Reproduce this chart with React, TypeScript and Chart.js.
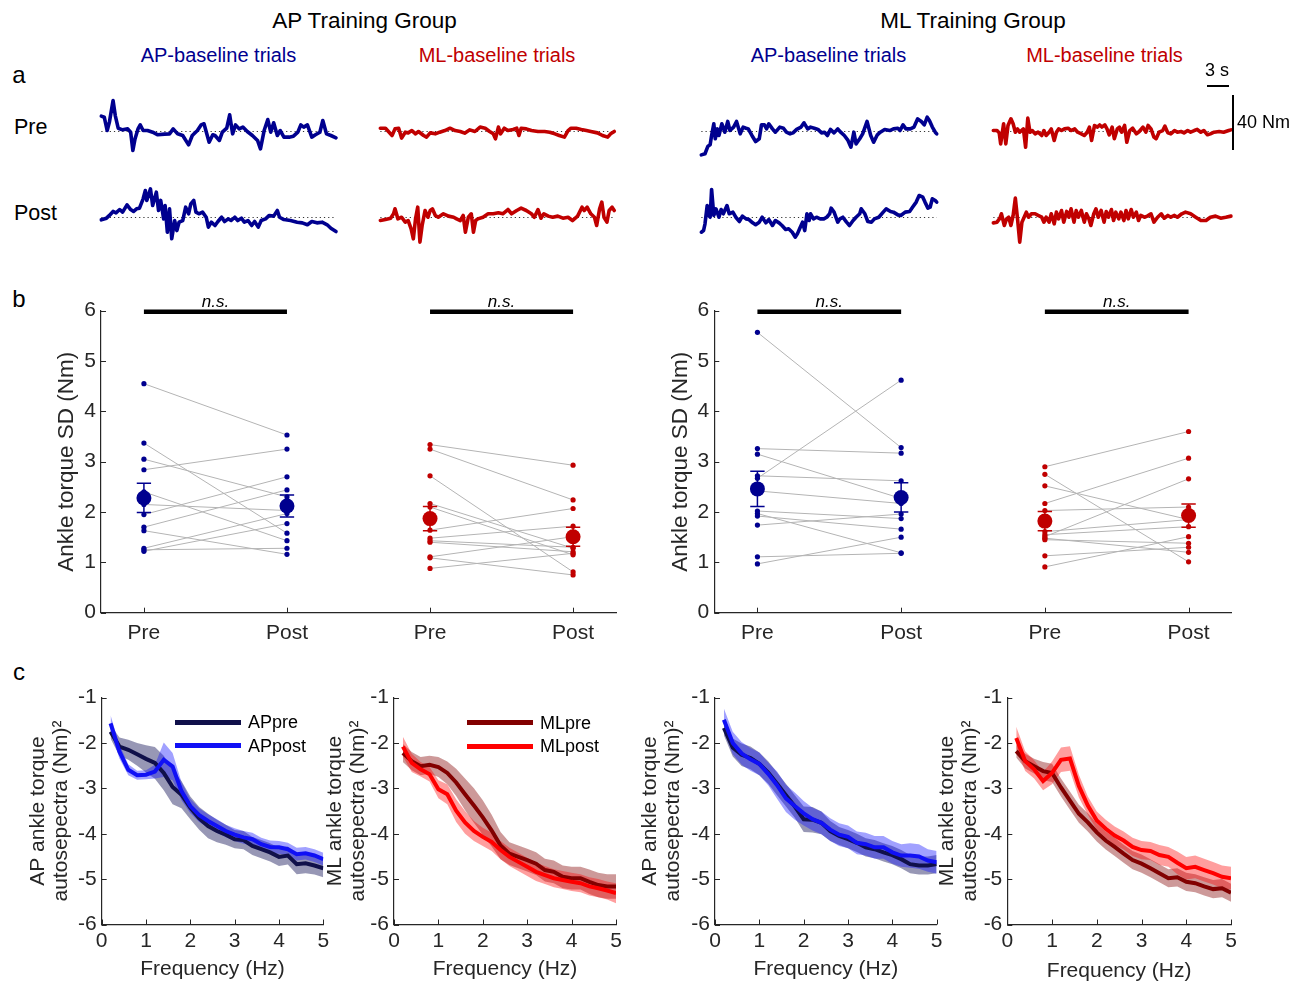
import React, { useEffect, useRef } from 'react';
import { Chart, registerables } from 'chart.js';

Chart.register(...registerables);

const FONT = "'Liberation Sans', Arial, Helvetica, sans-serif";
Chart.defaults.font.family = FONT;
Chart.defaults.color = '#262626';

// ================= DATA: row a, torque traces (time s, torque Nm) =================
// AP training group
const APG_AP_PRE_T = [0, 0.4, 0.8, 1.1, 1.6, 1.9, 2.3, 2.9, 3.6, 4.0, 4.3, 4.6, 5.0, 5.3, 5.7, 6.3, 7.0, 7.7, 8.6, 9.3, 9.8, 10.4, 11.1, 11.9, 12.4, 13.1, 13.6, 14.0, 14.7, 15.2, 15.5, 16.1, 16.5, 17.1, 17.5, 17.9, 18.3, 18.8, 19.3, 19.9, 20.6, 21.3, 21.7, 22.2, 22.7, 23.1, 23.5, 24.0, 24.4, 24.9, 25.6, 26.2, 26.8, 27.2, 27.6, 28.1, 28.7, 29.2, 29.8, 30.2, 30.7, 31.3, 32.0];
const APG_AP_PRE_NM = [11.2, 10.4, 0.7, 6.8, 22.5, 11.6, 2.4, 1.2, 1.9, -0.5, -13.8, -5.3, 1.9, 4.8, 0.7, 0.7, -0.5, -2.4, -1.9, -1.7, 1.9, -1.7, -2.9, -9.7, -2.9, 0.7, 4.8, 5.6, -7.8, -2.4, -2.9, -6.5, -0.5, 2.4, 12.1, -1.7, 4.8, 1.9, 3.2, 0, -2.9, -6.5, -12.6, 0.7, 8.7, -0.5, 6.3, -2.9, 0.7, -4.1, -4.1, -3.4, -0.5, 4.8, 3.2, 4.8, -4.1, -2.4, -0.5, 8.0, -1.7, -2.9, -4.6];
const APG_AP_POST_T = [0, 0.7, 1.1, 1.6, 2.0, 2.5, 2.9, 3.5, 4.0, 4.4, 4.8, 5.2, 5.7, 6.0, 6.2, 6.7, 7.0, 7.5, 7.8, 8.1, 8.5, 8.7, 9.0, 9.3, 9.6, 10.0, 10.3, 10.6, 11.1, 11.5, 11.9, 12.2, 12.6, 12.9, 13.3, 13.8, 14.3, 14.6, 15.0, 15.5, 15.9, 16.4, 16.8, 17.3, 17.7, 18.2, 18.6, 19.1, 19.5, 20.0, 20.5, 20.9, 21.4, 21.8, 22.4, 22.9, 23.5, 24.0, 24.3, 24.9, 25.8, 26.7, 27.4, 28.1, 28.7, 29.4, 30.1, 30.8, 31.3, 32.0];
const APG_AP_POST_NM = [-1.7, -0.5, 1.5, 4.4, 3.4, 5.8, 3.9, 9.2, 5.8, 4.4, 6.3, 6.8, 13.6, 19.6, 12.4, 20.8, 8.7, 18.4, 5.1, 12.4, -1.0, 8.7, -10.7, 6.3, -15.5, -2.2, -9.5, -3.4, -2.2, 7.5, 2.7, 9.9, 12.4, 3.9, 2.7, 3.9, 0.2, -7.0, -3.4, -5.8, -2.9, 0.2, -2.9, -1.0, -2.2, 0.2, -2.2, -0.5, -3.4, -2.2, -5.8, -2.9, -7.0, -2.2, -1.0, 1.5, 1.0, 5.1, 0.2, -1.5, -2.2, -3.4, -3.9, -5.3, -2.9, -3.9, -3.4, -5.3, -7.8, -10.2];
const APG_ML_PRE_T = [0, 0.7, 1.2, 1.6, 2.0, 2.5, 2.9, 3.4, 3.8, 4.3, 4.8, 5.2, 5.9, 6.3, 6.8, 7.5, 8.1, 8.8, 9.5, 10.2, 10.9, 11.5, 12.2, 12.9, 13.6, 14.3, 14.9, 15.4, 15.7, 16.1, 16.4, 16.9, 17.4, 18.1, 18.6, 18.9, 19.2, 19.9, 20.6, 21.5, 22.4, 23.1, 23.8, 24.4, 25.1, 25.6, 26.0, 26.7, 27.4, 28.1, 28.7, 29.6, 30.3, 31.0, 31.4, 31.9];
const APG_ML_PRE_NM = [2.4, 2.4, -0.5, -2.9, 1.9, 2.4, -4.8, -0.5, -1.0, 0.7, -1.7, 0, -2.9, -4.1, -1.0, -1.7, -0.5, 0.7, 2.4, 0.7, 0, -1.2, 1.2, 0, 3.2, 2.4, 0, -1.7, -5.3, 3.2, -1.7, 2.4, 0.7, 1.5, 2.4, -2.9, 2.4, 1.9, 0.7, 0, 0, -0.5, -1.7, -2.9, -4.1, 0.7, 2.4, 2.4, 1.5, 0.7, 0, -1.0, -2.9, -4.1, -1.7, 0];
const APG_ML_POST_T = [0, 0.7, 1.4, 1.8, 2.0, 2.4, 2.9, 3.4, 3.8, 4.2, 4.5, 4.8, 5.1, 5.4, 5.7, 6.1, 6.5, 6.8, 7.1, 7.5, 7.9, 8.6, 9.3, 10.0, 10.4, 10.9, 11.3, 11.6, 12.0, 12.4, 12.7, 13.0, 13.3, 14.0, 14.7, 15.4, 16.1, 16.7, 17.4, 17.9, 18.6, 19.2, 19.9, 20.6, 21.0, 21.5, 21.9, 22.3, 22.9, 23.5, 24.2, 24.9, 25.6, 26.2, 26.9, 27.5, 27.8, 28.2, 28.7, 29.2, 29.5, 29.9, 30.2, 30.5, 30.9, 31.2, 31.6, 31.9];
const APG_ML_POST_NM = [-2.2, -1.5, -0.5, 2.7, 6.3, -1.0, 0.2, -3.4, -2.2, -8.2, -15.5, -1.0, 7.5, -17.9, -5.8, 5.1, 0.2, 5.1, 6.3, 1.5, 0.2, 2.7, 1.0, 0.2, -1.0, -2.2, 1.5, -10.7, 0.2, 2.7, -10.7, -2.2, -1.0, 0.2, 2.7, 2.7, 3.4, 2.7, 5.8, 2.7, 5.1, 6.8, 5.1, 2.7, 0.2, 5.8, -0.5, 2.7, 1.0, 0.2, 1.0, -0.5, 0.2, -2.2, 1.0, 7.5, 5.1, 7.5, 2.7, 0.2, -5.8, 6.3, 11.2, 0.2, -3.4, 5.1, 7.5, 5.1];
// ML training group
const MLG_AP_PRE_T = [0, 0.5, 0.9, 1.2, 1.4, 1.7, 1.9, 2.2, 2.4, 2.8, 3.2, 3.6, 3.9, 4.4, 4.8, 5.3, 5.7, 6.1, 6.4, 6.9, 7.4, 7.9, 8.2, 8.6, 8.9, 9.2, 9.7, 10.1, 10.7, 11.2, 11.6, 12.1, 12.5, 13.0, 13.6, 14.0, 14.5, 14.9, 15.4, 15.9, 16.4, 16.8, 17.2, 17.6, 18.1, 18.6, 19.0, 19.5, 20.0, 20.4, 20.8, 21.1, 21.6, 22.0, 22.6, 23.1, 23.5, 24.0, 24.4, 25.0, 25.7, 26.2, 26.8, 27.1, 27.5, 27.9, 28.5, 29.0, 29.5, 30.0, 30.4, 30.8, 31.1, 31.5, 31.9, 32.1];
const MLG_AP_PRE_NM = [-17.0, -16.2, -10.7, -9.7, -2.9, 5.6, -5.3, 1.9, -2.9, 5.6, -0.5, 7.3, 0.7, 3.2, 7.3, -1.7, 3.2, 2.4, 1.9, -2.9, -7.3, -5.3, 4.8, 4.8, 1.9, 5.6, 1.9, -0.5, 3.2, 2.4, -0.5, -1.7, -1.0, 1.5, 3.2, 6.3, 1.9, 3.2, 2.4, 1.5, -1.0, -0.5, -2.9, 1.5, -1.0, 1.9, -0.5, -2.9, -6.5, -11.4, -0.5, -9.0, -5.3, -1.7, 7.3, -2.9, -7.8, -2.4, -0.5, 1.5, 0.7, 1.9, 2.4, 0.7, 4.8, 1.9, 1.9, 3.2, 9.2, 7.3, 4.8, 10.4, 8.0, 3.2, -0.5, -1.7];
const MLG_AP_POST_T = [0, 0.3, 0.5, 0.8, 1.0, 1.2, 1.4, 1.7, 2.0, 2.4, 2.7, 3.0, 3.5, 3.8, 4.3, 4.7, 5.2, 5.6, 6.1, 6.5, 7.0, 7.4, 7.9, 8.3, 8.8, 9.2, 9.7, 10.1, 10.6, 11.0, 11.5, 11.9, 12.4, 12.8, 13.1, 13.4, 13.8, 14.1, 14.4, 14.7, 14.9, 15.3, 15.7, 16.2, 16.7, 17.1, 17.5, 17.7, 18.1, 18.6, 18.9, 19.3, 19.8, 20.2, 20.7, 21.1, 21.6, 21.8, 22.3, 22.7, 23.2, 23.6, 24.2, 24.8, 25.2, 25.8, 26.2, 26.8, 27.2, 27.8, 28.4, 28.8, 29.3, 29.7, 30.2, 30.5, 30.9, 31.2, 31.5, 31.9, 32.1];
const MLG_AP_POST_NM = [-10.7, -9.5, -4.6, 8.7, 1.5, 0.2, 20.4, 1.5, 6.3, 0.2, 5.8, 2.7, 8.7, 2.7, 3.9, 0.2, -2.9, 1.0, -1.0, -1.5, -3.9, -5.3, -3.4, 0.2, -3.9, -1.5, -5.8, -2.2, -3.9, -5.8, -8.7, -8.2, -10.7, -14.3, -11.9, -8.2, -3.4, -9.5, 2.7, -2.2, 2.7, -1.0, 0.2, -1.0, -1.0, 0.2, 2.7, 6.8, 3.9, -3.4, -1.0, 0.2, -3.4, -5.8, -2.2, 0.2, 2.7, 6.3, 2.7, -2.9, -3.4, -1.0, 0.2, 3.9, 6.3, 4.4, 3.9, 1.9, 1.5, 3.9, 4.4, 7.5, 11.2, 16.0, 14.8, 11.2, 6.8, 7.5, 13.6, 12.4, 11.2];
const MLG_ML_PRE_T = [0, 0.5, 0.8, 1.0, 1.4, 1.7, 2.0, 2.4, 2.7, 3.0, 3.3, 3.6, 4.1, 4.4, 4.7, 5.0, 5.3, 5.7, 6.1, 6.6, 6.9, 7.2, 7.6, 7.9, 8.3, 8.6, 8.9, 9.3, 9.7, 10.2, 10.6, 11.1, 11.5, 12.0, 12.4, 12.8, 13.1, 13.4, 13.8, 14.2, 14.5, 14.8, 15.2, 15.5, 15.8, 16.2, 16.5, 16.9, 17.2, 17.5, 17.9, 18.2, 18.6, 19.0, 19.5, 19.9, 20.4, 20.8, 21.1, 21.5, 21.9, 22.2, 22.6, 23.1, 23.4, 23.8, 24.2, 24.7, 25.1, 25.6, 26.0, 26.5, 26.9, 27.4, 27.8, 28.3, 28.7, 29.2, 29.6, 30.1, 30.8, 31.4, 32.1, 32.4];
const MLG_ML_PRE_NM = [0.7, 0.7, -1.0, -9.0, 5.6, -9.0, 4.4, 9.2, 5.6, -0.5, 1.9, -0.5, 1.9, -11.4, 9.7, -0.5, 0.7, -1.7, -0.5, -2.9, 0.7, -2.9, -0.5, 1.9, -6.5, -0.5, 1.9, 0.7, 1.9, 2.4, 0.7, 1.9, -0.5, -1.7, -2.9, -0.5, 3.2, -6.5, 4.4, 3.2, 4.8, 3.2, 4.8, 1.9, -2.4, 3.2, -5.3, 1.9, 3.2, -0.5, 4.4, -7.8, 0.7, 2.4, -1.7, 0, 3.2, -0.5, 4.4, 1.9, -4.1, -5.3, -0.5, 0.7, 3.9, -1.0, -1.7, 0.7, -0.5, 0, -1.0, 0.7, -0.5, 0.7, 1.5, -0.5, 0.7, -2.4, -1.7, -0.5, 0, -0.5, 0.7, 1.2];
const MLG_ML_POST_T = [0, 0.5, 0.9, 1.1, 1.5, 1.8, 2.1, 2.4, 2.7, 3.0, 3.3, 3.6, 3.9, 4.2, 4.5, 4.8, 5.2, 5.7, 6.1, 6.6, 6.9, 7.2, 7.6, 7.9, 8.3, 8.6, 8.9, 9.3, 9.6, 10.0, 10.3, 10.6, 11.0, 11.3, 11.6, 12.0, 12.4, 12.7, 13.0, 13.3, 13.7, 14.0, 14.3, 14.7, 15.1, 15.4, 15.7, 16.1, 16.4, 16.7, 17.1, 17.4, 17.8, 18.1, 18.4, 18.8, 19.1, 19.5, 19.8, 20.1, 20.6, 21.0, 21.5, 21.9, 22.4, 22.9, 23.3, 23.8, 24.2, 24.7, 25.1, 25.7, 26.2, 26.9, 27.6, 28.3, 29.0, 29.6, 30.3, 31.0, 31.7, 32.4];
const MLG_ML_POST_NM = [-3.9, -3.4, -0.5, 2.7, -5.8, -1.0, 0.2, -5.8, 1.5, 14.1, -1.0, -17.9, -3.4, 0.2, 3.9, 0.2, 2.7, 2.7, 1.5, 0.2, -3.4, 0.2, -3.4, 2.7, -4.6, 3.9, -1.0, 5.1, -3.4, 4.4, 0.2, 6.3, -3.4, 5.1, 0.2, 5.1, -3.4, 2.7, -0.5, -5.8, 2.7, 6.3, 0.2, 5.1, -3.4, 4.4, 0.2, 5.8, -2.2, 3.9, -1.0, 3.9, -2.2, 5.1, -1.0, 5.8, 0.2, 3.9, -2.2, 1.5, 0.2, 1.0, 2.7, -3.4, 0.2, 2.7, -0.5, 1.5, 0.2, 1.5, 0.2, 2.7, 3.9, 2.7, 0.2, -2.2, -2.2, 0.2, 1.0, -0.5, 0.2, 1.0];

const SCALE_BAR_S = 3;
const SCALE_BAR_NM = 40;

// ================= DATA: row b, ankle torque SD (Nm) =================
const SD_TICK_POS = [1, 2, 3, 4];
const SD_TICK_LABELS = ['Pre', 'Post', 'Pre', 'Post'];
const SD_Y_TICKS = [0, 1, 2, 3, 4, 5, 6];
const SIG_LEVEL = 5.98;
const SIG_TEXT = 'n.s.';

const APG_AP_SD_PRE = [4.55, 3.37, 3.05, 2.84, 2.40, 2.15, 1.95, 1.70, 1.63, 1.28, 1.25, 1.22];
const APG_AP_SD_POST = [3.53, 1.58, 2.30, 3.25, 1.43, 2.03, 2.70, 2.44, 1.16, 1.97, 1.28, 1.77];
const APG_ML_SD_PRE = [3.34, 3.25, 2.72, 2.17, 2.10, 1.64, 1.48, 1.43, 1.40, 1.11, 1.09, 0.88];
const APG_ML_SD_POST = [2.93, 2.24, 0.81, 1.28, 1.15, 2.07, 1.72, 1.30, 1.21, 1.51, 0.75, 1.18];
const MLG_AP_SD_PRE = [5.57, 2.67, 3.26, 3.15, 2.72, 2.42, 2.02, 1.97, 1.92, 1.74, 1.11, 0.97];
const MLG_AP_SD_POST = [3.28, 4.62, 3.17, 2.27, 2.62, 2.17, 1.87, 1.19, 1.66, 1.96, 1.18, 1.50];
const MLG_ML_SD_PRE = [2.90, 2.75, 2.52, 2.17, 2.03, 1.61, 1.55, 1.51, 1.48, 1.45, 1.13, 0.91];
const MLG_ML_SD_POST = [3.60, 1.01, 1.85, 3.07, 2.10, 1.85, 1.71, 2.66, 1.20, 1.38, 1.30, 1.51];

// group mean [pre, post] and standard error [pre, post]
const APG_AP_SD_MEAN = [2.28, 2.12];
const APG_AP_SD_SE = [0.29, 0.22];
const APG_ML_SD_MEAN = [1.87, 1.51];
const APG_ML_SD_SE = [0.24, 0.19];
const MLG_AP_SD_MEAN = [2.46, 2.29];
const MLG_AP_SD_SE = [0.35, 0.29];
const MLG_ML_SD_MEAN = [1.82, 1.93];
const MLG_ML_SD_SE = [0.19, 0.23];

// ================= DATA: row c, log autospectra =================
const FREQ_HZ = [0.2, 0.4, 0.6, 0.8, 1.0, 1.2, 1.4, 1.6, 1.8, 2.0, 2.2, 2.4, 2.6, 2.8, 3.0, 3.2, 3.4, 3.6, 3.8, 4.0, 4.2, 4.4, 4.6, 4.8, 5.0];
const SPEC_X_TICKS = [0, 1, 2, 3, 4, 5];
const SPEC_Y_TICKS = [-6, -5, -4, -3, -2, -1];

const APG_SPEC_AP_PRE = [-1.75, -2.08, -2.15, -2.25, -2.35, -2.44, -2.66, -2.97, -3.14, -3.43, -3.66, -3.83, -3.94, -4.02, -4.12, -4.14, -4.27, -4.34, -4.41, -4.51, -4.48, -4.67, -4.65, -4.70, -4.76];
const APG_SPEC_AP_PRE_SE = [0.15, 0.2, 0.22, 0.25, 0.3, 0.35, 0.38, 0.38, 0.3, 0.25, 0.25, 0.27, 0.25, 0.22, 0.2, 0.2, 0.2, 0.2, 0.2, 0.2, 0.2, 0.22, 0.22, 0.2, 0.2];
const APG_SPEC_AP_POST = [-1.57, -2.19, -2.59, -2.71, -2.70, -2.63, -2.37, -2.52, -3.06, -3.39, -3.59, -3.72, -3.83, -3.94, -4.02, -4.08, -4.12, -4.23, -4.29, -4.30, -4.34, -4.45, -4.43, -4.48, -4.56];
const APG_SPEC_AP_POST_SE = [0.18, 0.15, 0.12, 0.1, 0.1, 0.15, 0.38, 0.3, 0.2, 0.16, 0.15, 0.15, 0.15, 0.14, 0.14, 0.14, 0.14, 0.14, 0.14, 0.14, 0.14, 0.14, 0.14, 0.14, 0.14];
const APG_SPEC_ML_PRE = [-2.22, -2.40, -2.51, -2.48, -2.53, -2.66, -2.87, -3.13, -3.38, -3.64, -3.93, -4.26, -4.44, -4.51, -4.58, -4.66, -4.80, -4.84, -4.95, -4.98, -4.98, -5.06, -5.13, -5.16, -5.16];
const APG_SPEC_ML_PRE_SE = [0.2, 0.2, 0.2, 0.2, 0.22, 0.25, 0.3, 0.35, 0.38, 0.38, 0.35, 0.3, 0.25, 0.25, 0.25, 0.25, 0.25, 0.25, 0.25, 0.25, 0.25, 0.27, 0.27, 0.27, 0.27];
const APG_SPEC_ML_POST = [-2.08, -2.44, -2.58, -2.69, -3.02, -3.13, -3.49, -3.75, -3.94, -4.07, -4.18, -4.36, -4.51, -4.62, -4.73, -4.84, -4.91, -4.98, -5.02, -5.06, -5.09, -5.16, -5.20, -5.25, -5.31];
const APG_SPEC_ML_POST_SE = [0.22, 0.2, 0.16, 0.16, 0.2, 0.22, 0.25, 0.25, 0.22, 0.2, 0.2, 0.2, 0.2, 0.2, 0.2, 0.2, 0.2, 0.2, 0.2, 0.2, 0.2, 0.2, 0.2, 0.2, 0.22];
const MLG_SPEC_AP_PRE = [-1.67, -2.10, -2.26, -2.33, -2.46, -2.65, -2.90, -3.15, -3.40, -3.68, -3.69, -3.76, -3.94, -4.05, -4.12, -4.20, -4.30, -4.34, -4.41, -4.47, -4.56, -4.67, -4.70, -4.70, -4.67];
const MLG_SPEC_AP_PRE_SE = [0.16, 0.2, 0.25, 0.25, 0.25, 0.25, 0.25, 0.25, 0.25, 0.28, 0.28, 0.25, 0.22, 0.2, 0.2, 0.2, 0.2, 0.2, 0.2, 0.2, 0.2, 0.2, 0.2, 0.2, 0.2];
const MLG_SPEC_AP_POST = [-1.49, -2.00, -2.23, -2.36, -2.46, -2.68, -2.93, -3.22, -3.39, -3.55, -3.68, -3.76, -3.91, -4.02, -4.07, -4.20, -4.23, -4.30, -4.30, -4.41, -4.48, -4.48, -4.50, -4.59, -4.63];
const MLG_SPEC_AP_POST_SE = [0.25, 0.25, 0.25, 0.25, 0.25, 0.25, 0.3, 0.3, 0.3, 0.27, 0.25, 0.25, 0.25, 0.25, 0.25, 0.25, 0.25, 0.25, 0.25, 0.25, 0.25, 0.27, 0.27, 0.25, 0.25];
const MLG_SPEC_ML_PRE = [-2.18, -2.40, -2.51, -2.62, -2.66, -2.98, -3.27, -3.56, -3.75, -3.97, -4.15, -4.29, -4.44, -4.58, -4.66, -4.76, -4.87, -4.98, -4.96, -5.06, -5.09, -5.16, -5.22, -5.20, -5.30];
const MLG_SPEC_ML_PRE_SE = [0.14, 0.16, 0.16, 0.2, 0.2, 0.2, 0.2, 0.2, 0.2, 0.2, 0.2, 0.2, 0.2, 0.2, 0.2, 0.2, 0.2, 0.2, 0.2, 0.2, 0.2, 0.2, 0.2, 0.2, 0.2];
const MLG_SPEC_ML_POST = [-1.89, -2.40, -2.58, -2.84, -2.66, -2.37, -2.34, -2.95, -3.38, -3.71, -3.89, -4.04, -4.15, -4.29, -4.36, -4.38, -4.47, -4.51, -4.64, -4.76, -4.73, -4.80, -4.87, -4.95, -4.98];
const MLG_SPEC_ML_POST_SE = [0.25, 0.22, 0.2, 0.2, 0.25, 0.27, 0.27, 0.25, 0.2, 0.2, 0.2, 0.2, 0.2, 0.2, 0.2, 0.2, 0.22, 0.22, 0.25, 0.25, 0.25, 0.25, 0.25, 0.25, 0.25];

// ================= STYLE / LAYOUT =================
const BLUE = '#00008F';
const RED = '#C00000';
const AXIS = '#262626';
const GRAY_LINE = '#B4B4B4';
const AP_PRE_LINE = '#10104A';
const AP_PRE_BAND = 'rgba(25,25,90,0.45)';
const AP_POST_LINE = '#1010F5';
const AP_POST_BAND = 'rgba(20,20,255,0.40)';
const ML_PRE_LINE = '#820000';
const ML_PRE_BAND = 'rgba(130,0,0,0.40)';
const ML_POST_LINE = '#FF0000';
const ML_POST_BAND = 'rgba(255,0,0,0.38)';
const TICK_FONT = { size: 21 };

const PX_PER_S = 22 / 3;
const PX_PER_NM = 55 / 40;
const TRACE_T_MIN = -1;
const TRACE_T_MAX = 33.5;
const TRACE_NM_HALF = 36;
const TICK_LEN = 5;

const inwardTicks = {
  id: 'inwardTicks',
  afterDatasetsDraw(chart: any) {
    const { ctx, chartArea } = chart;
    const xs = chart.scales.x;
    const ys = chart.scales.y;
    ctx.save();
    ctx.strokeStyle = AXIS;
    ctx.lineWidth = 1;
    ctx.beginPath();
    xs.ticks.forEach((t: any) => {
      const p = Math.round(xs.getPixelForValue(t.value)) + 0.5;
      ctx.moveTo(p, chartArea.bottom);
      ctx.lineTo(p, chartArea.bottom - TICK_LEN);
    });
    ys.ticks.forEach((t: any) => {
      const p = Math.round(ys.getPixelForValue(t.value)) + 0.5;
      ctx.moveTo(chartArea.left, p);
      ctx.lineTo(chartArea.left + TICK_LEN, p);
    });
    ctx.stroke();
    ctx.restore();
  },
};

type Area = { left: number; right: number; top: number; bottom: number };

function makeFrame(area: Area, ml: number, mt: number, mr: number, bottomAbs: number) {
  const left = Math.floor(area.left - ml);
  const top = Math.floor(area.top - mt);
  const right = Math.ceil(area.right + mr);
  const bottom = bottomAbs;
  return {
    left, top, width: right - left, height: bottom - top,
    yWidth: area.left - left, xHeight: bottom - area.bottom,
    padTop: area.top - top, padRight: right - area.right,
  };
}

function ChartBox({ left, top, width, height, make }: any) {
  const ref = useRef<HTMLCanvasElement>(null);
  useEffect(() => {
    const chart = new Chart(ref.current as HTMLCanvasElement, make());
    return () => chart.destroy();
  }, []);
  return (
    <canvas ref={ref} width={width} height={height}
      style={{ position: 'absolute', left, top, width, height, display: 'block' }} />
  );
}

// ---------- row a ----------
function traceConfig(t: number[], v: number[], color: string): any {
  const n = Math.min(t.length, v.length);
  const pts: any[] = [];
  for (let i = 0; i < n; i++) pts.push({ x: t[i], y: v[i] });
  return {
    type: 'line',
    data: {
      datasets: [
        { data: pts, borderColor: color, borderWidth: 3.6, pointRadius: 0, tension: 0, borderJoinStyle: 'round', borderCapStyle: 'round', clip: false },
        { data: [{ x: t[0], y: 0 }, { x: t[n - 1], y: 0 }], borderColor: '#333', borderWidth: 1.2, borderDash: [1.2, 3], pointRadius: 0, clip: false },
      ],
    },
    options: {
      animation: false, responsive: false, events: [],
      layout: { padding: 0 },
      plugins: { legend: { display: false }, tooltip: { enabled: false } },
      scales: {
        x: { type: 'linear', display: false, min: TRACE_T_MIN, max: TRACE_T_MAX },
        y: { type: 'linear', display: false, min: -TRACE_NM_HALF, max: TRACE_NM_HALF },
      },
    },
  };
}

function Trace({ t, v, color, x0, base }: any) {
  const width = Math.round((TRACE_T_MAX - TRACE_T_MIN) * PX_PER_S);
  const height = Math.round(2 * TRACE_NM_HALF * PX_PER_NM);
  const left = Math.round(x0 + TRACE_T_MIN * PX_PER_S);
  const top = Math.round(base - height / 2);
  return <ChartBox left={left} top={top} width={width} height={height} make={() => traceConfig(t, v, color)} />;
}

// ---------- row b ----------
const CAP = 0.05;
function sdConfig(sets: any[], fr: any, titleX: number): any {
  const datasets: any[] = [];
  sets.forEach((s) => {
    const xa = s.x0;
    const xb = s.x0 + 1;
    const n = Math.min(s.pre.length, s.post.length);
    for (let i = 0; i < n; i++) {
      datasets.push({ data: [{ x: xa, y: s.pre[i] }, { x: xb, y: s.post[i] }], borderColor: GRAY_LINE, borderWidth: 1, pointRadius: 0, order: 5 });
    }
    datasets.push({
      data: [...s.pre.map((y: number) => ({ x: xa, y })), ...s.post.map((y: number) => ({ x: xb, y }))],
      showLine: false, pointRadius: 2.6, pointBackgroundColor: s.color, pointBorderColor: s.color, pointBorderWidth: 0, order: 4,
    });
    const eb: any[] = [];
    [[xa, s.mean[0], s.se[0]], [xb, s.mean[1], s.se[1]]].forEach(([x, m, e]) => {
      const lo = m - e;
      const hi = m + e;
      eb.push({ x: x - CAP, y: lo }, { x: x + CAP, y: lo }, { x, y: null },
        { x, y: lo }, { x, y: hi }, { x, y: null },
        { x: x - CAP, y: hi }, { x: x + CAP, y: hi }, { x, y: null });
    });
    datasets.push({ data: eb, borderColor: s.color, borderWidth: 1.5, pointRadius: 0, spanGaps: false, order: 3 });
    datasets.push({
      data: [{ x: xa, y: s.mean[0] }, { x: xb, y: s.mean[1] }], showLine: false,
      pointRadius: 7.5, pointBackgroundColor: s.color, pointBorderColor: s.color, pointBorderWidth: 0, order: 2,
    });
    datasets.push({ data: [{ x: xa, y: SIG_LEVEL }, { x: xb, y: SIG_LEVEL }], borderColor: '#000', borderWidth: 4.5, pointRadius: 0, order: 1, clip: false, borderCapStyle: 'butt' });
  });
  const yTitleFont = { size: 22.5, lineHeight: 1.2 };
  return {
    type: 'line',
    data: { datasets },
    plugins: [inwardTicks],
    options: {
      animation: false, responsive: false, events: [],
      layout: { padding: { left: 0, top: fr.padTop, right: fr.padRight, bottom: 0 } },
      plugins: { legend: { display: false }, tooltip: { enabled: false } },
      scales: {
        x: {
          type: 'linear', min: 0.7, max: 4.3,
          grid: { display: false, drawTicks: false, tickLength: 0 },
          border: { display: true, color: AXIS, width: 1.2 },
          afterBuildTicks: (ax: any) => { ax.ticks = SD_TICK_POS.map((v) => ({ value: v })); },
          afterFit: (ax: any) => { ax.height = fr.xHeight; },
          ticks: { autoSkip: false, maxRotation: 0, padding: 8, color: AXIS, font: TICK_FONT, callback: (_v: any, i: number) => SD_TICK_LABELS[i] },
        },
        y: {
          type: 'linear', min: 0, max: 6,
          grid: { display: false, drawTicks: false, tickLength: 0 },
          border: { display: true, color: AXIS, width: 1.2 },
          afterBuildTicks: (ax: any) => { ax.ticks = SD_Y_TICKS.map((v) => ({ value: v })); },
          afterFit: (ax: any) => { ax.width = fr.yWidth; },
          ticks: { padding: 5, color: AXIS, font: TICK_FONT },
          title: {
            display: true, text: 'Ankle torque SD (Nm)', color: AXIS, font: yTitleFont,
            padding: { top: titleX - fr.left - 13.5, bottom: 0 },
          },
        },
      },
    },
  };
}

function SdPanel({ area, titleX, sets }: any) {
  const fr = makeFrame(area, 60, 20, 10, Math.ceil(area.bottom + 40));
  return <ChartBox left={fr.left} top={fr.top} width={fr.width} height={fr.height} make={() => sdConfig(sets, fr, titleX)} />;
}

// ---------- row c ----------
const C_CANVAS_BOTTOM = 986;
function specConfig(p: any, fr: any): any {
  const pts = (m: number[], s: number[], k: number) => FREQ_HZ.map((f, i) => ({ x: f, y: m[i] + k * s[i] }));
  const none = 'rgba(0,0,0,0)';
  const base = { pointRadius: 0, tension: 0 };
  const datasets = [
    { ...base, data: pts(p.post, p.postSe, 0), borderColor: p.postLine, borderWidth: 4, order: 0 },
    { ...base, data: pts(p.pre, p.preSe, 0), borderColor: p.preLine, borderWidth: 4, order: 1 },
    { ...base, data: pts(p.post, p.postSe, 1), borderColor: none, borderWidth: 0, backgroundColor: p.postBand, fill: '+1', order: 2 },
    { ...base, data: pts(p.post, p.postSe, -1), borderColor: none, borderWidth: 0, fill: false, order: 2 },
    { ...base, data: pts(p.pre, p.preSe, 1), borderColor: none, borderWidth: 0, backgroundColor: p.preBand, fill: '+1', order: 3 },
    { ...base, data: pts(p.pre, p.preSe, -1), borderColor: none, borderWidth: 0, fill: false, order: 3 },
  ];
  const yLH = 23;
  return {
    type: 'line',
    data: { datasets },
    plugins: [inwardTicks],
    options: {
      animation: false, responsive: false, events: [],
      layout: { padding: { left: 0, top: fr.padTop, right: fr.padRight, bottom: 0 } },
      plugins: { legend: { display: false }, tooltip: { enabled: false } },
      scales: {
        x: {
          type: 'linear', min: 0, max: 5,
          grid: { display: false, drawTicks: false, tickLength: 0 },
          border: { display: true, color: AXIS, width: 1.2 },
          afterBuildTicks: (ax: any) => { ax.ticks = SPEC_X_TICKS.map((v) => ({ value: v })); },
          afterFit: (ax: any) => { ax.height = fr.xHeight; },
          ticks: { autoSkip: false, maxRotation: 0, padding: 4, color: AXIS, font: TICK_FONT },
          title: {
            display: true, text: 'Frequency (Hz)', color: AXIS, font: { size: 21, lineHeight: 1.2 },
            padding: { top: 0, bottom: Math.max(0, C_CANVAS_BOTTOM - 12.6 - p.xTitleY) },
          },
        },
        y: {
          type: 'linear', min: -6, max: -1,
          grid: { display: false, drawTicks: false, tickLength: 0 },
          border: { display: true, color: AXIS, width: 1.2 },
          afterBuildTicks: (ax: any) => { ax.ticks = SPEC_Y_TICKS.map((v) => ({ value: v })); },
          afterFit: (ax: any) => { ax.width = fr.yWidth; },
          ticks: { padding: 5, color: AXIS, font: TICK_FONT },
          title: {
            display: true, text: p.yTitle, color: AXIS, font: { size: 21, lineHeight: yLH / 21 },
            padding: { top: p.yTitleX - fr.left - yLH / 2, bottom: 0 },
          },
        },
      },
    },
  };
}

function SpecPanel(p: any) {
  const fr = makeFrame(p.area, 80, 15, 12, C_CANVAS_BOTTOM);
  return <ChartBox left={fr.left} top={fr.top} width={fr.width} height={fr.height} make={() => specConfig(p, fr)} />;
}

// ---------- text helpers ----------
function Txt({ x, y, children, size, color = '#000', align = 'center', italic = false }: any) {
  const tx = align === 'center' ? '-50%' : align === 'right' ? '-100%' : '0';
  return (
    <div style={{
      position: 'absolute', left: x, top: y, transform: `translate(${tx}, -50%)`,
      fontSize: size, lineHeight: 1, color, fontStyle: italic ? 'italic' : 'normal', whiteSpace: 'nowrap',
    }}>{children}</div>
  );
}

function Swatch({ x, y, w, color }: any) {
  return <div style={{ position: 'absolute', left: x, top: y - 2.5, width: w, height: 5, background: color }} />;
}

const B_LEFT: Area = { left: 101, right: 616, top: 310.7, bottom: 612.7 };
const B_RIGHT: Area = { left: 714.3, right: 1231.7, top: 310.7, bottom: 612.7 };
const bx = (a: Area, v: number) => a.left + ((v - 0.7) / 3.6) * (a.right - a.left);

export default function App() {
  const AP_T0 = 101.7, APR_T0 = 380, ML_T0 = 701, MLR_T0 = 993.3;
  const PRE_Y = 131, POST_Y = 217;
  const by = B_LEFT.top - 10;
  return (
    <div style={{ position: 'absolute', left: 0, top: 0, width: 1304, height: 982, overflow: 'hidden', background: '#fff', fontFamily: FONT, color: '#000' }}>
      {/* headers */}
      <Txt x={364.5} y={21} size={22.5}>AP Training Group</Txt>
      <Txt x={973} y={21} size={22.5}>ML Training Group</Txt>
      <Txt x={218.5} y={55} size={20} color={BLUE}>AP-baseline trials</Txt>
      <Txt x={497} y={55} size={20} color={RED}>ML-baseline trials</Txt>
      <Txt x={828.5} y={55} size={20} color={BLUE}>AP-baseline trials</Txt>
      <Txt x={1104.5} y={55} size={20} color={RED}>ML-baseline trials</Txt>
      <Txt x={19} y={75} size={24}>a</Txt>
      <Txt x={19} y={299} size={24}>b</Txt>
      <Txt x={19} y={672} size={24}>c</Txt>
      <Txt x={14} y={128} size={21.5} align="left">Pre</Txt>
      <Txt x={14} y={214} size={21.5} align="left">Post</Txt>

      {/* row a traces */}
      <Trace t={APG_AP_PRE_T} v={APG_AP_PRE_NM} color={BLUE} x0={AP_T0} base={PRE_Y} />
      <Trace t={APG_AP_POST_T} v={APG_AP_POST_NM} color={BLUE} x0={AP_T0} base={POST_Y} />
      <Trace t={APG_ML_PRE_T} v={APG_ML_PRE_NM} color={RED} x0={APR_T0} base={PRE_Y} />
      <Trace t={APG_ML_POST_T} v={APG_ML_POST_NM} color={RED} x0={APR_T0} base={POST_Y} />
      <Trace t={MLG_AP_PRE_T} v={MLG_AP_PRE_NM} color={BLUE} x0={ML_T0} base={PRE_Y} />
      <Trace t={MLG_AP_POST_T} v={MLG_AP_POST_NM} color={BLUE} x0={ML_T0} base={POST_Y} />
      <Trace t={MLG_ML_PRE_T} v={MLG_ML_PRE_NM} color={RED} x0={MLR_T0} base={PRE_Y} />
      <Trace t={MLG_ML_POST_T} v={MLG_ML_POST_NM} color={RED} x0={MLR_T0} base={POST_Y} />

      {/* scale bar */}
      <div style={{ position: 'absolute', left: 1207, top: 85, width: SCALE_BAR_S * PX_PER_S, height: 2, background: '#000' }} />
      <Txt x={1217} y={70} size={18}>3 s</Txt>
      <div style={{ position: 'absolute', left: 1232, top: 95, width: 2, height: SCALE_BAR_NM * PX_PER_NM, background: '#000' }} />
      <Txt x={1237} y={122} size={18} align="left">40 Nm</Txt>

      {/* row b */}
      <SdPanel area={B_LEFT} titleX={67} sets={[
        { x0: 1, pre: APG_AP_SD_PRE, post: APG_AP_SD_POST, mean: APG_AP_SD_MEAN, se: APG_AP_SD_SE, color: BLUE },
        { x0: 3, pre: APG_ML_SD_PRE, post: APG_ML_SD_POST, mean: APG_ML_SD_MEAN, se: APG_ML_SD_SE, color: RED },
      ]} />
      <SdPanel area={B_RIGHT} titleX={681} sets={[
        { x0: 1, pre: MLG_AP_SD_PRE, post: MLG_AP_SD_POST, mean: MLG_AP_SD_MEAN, se: MLG_AP_SD_SE, color: BLUE },
        { x0: 3, pre: MLG_ML_SD_PRE, post: MLG_ML_SD_POST, mean: MLG_ML_SD_MEAN, se: MLG_ML_SD_SE, color: RED },
      ]} />
      <Txt x={bx(B_LEFT, 1.5)} y={by} size={17} italic>{SIG_TEXT}</Txt>
      <Txt x={bx(B_LEFT, 3.5)} y={by} size={17} italic>{SIG_TEXT}</Txt>
      <Txt x={bx(B_RIGHT, 1.5)} y={by} size={17} italic>{SIG_TEXT}</Txt>
      <Txt x={bx(B_RIGHT, 3.5)} y={by} size={17} italic>{SIG_TEXT}</Txt>

      {/* row c */}
      <SpecPanel area={{ left: 101.7, right: 323.3, top: 695.7, bottom: 924.5 }} yTitleX={38.7} xTitleY={969}
        yTitle={['AP ankle torque', 'autosepectra (Nm)²']}
        pre={APG_SPEC_AP_PRE} preSe={APG_SPEC_AP_PRE_SE} post={APG_SPEC_AP_POST} postSe={APG_SPEC_AP_POST_SE}
        preLine={AP_PRE_LINE} preBand={AP_PRE_BAND} postLine={AP_POST_LINE} postBand={AP_POST_BAND} />
      <SpecPanel area={{ left: 394, right: 616, top: 695.7, bottom: 924.5 }} yTitleX={335.5} xTitleY={969}
        yTitle={['ML ankle torque', 'autosepectra (Nm)²']}
        pre={APG_SPEC_ML_PRE} preSe={APG_SPEC_ML_PRE_SE} post={APG_SPEC_ML_POST} postSe={APG_SPEC_ML_POST_SE}
        preLine={ML_PRE_LINE} preBand={ML_PRE_BAND} postLine={ML_POST_LINE} postBand={ML_POST_BAND} />
      <SpecPanel area={{ left: 715, right: 936.7, top: 695.7, bottom: 924.5 }} yTitleX={650} xTitleY={969}
        yTitle={['AP ankle torque', 'autosepectra (Nm)²']}
        pre={MLG_SPEC_AP_PRE} preSe={MLG_SPEC_AP_PRE_SE} post={MLG_SPEC_AP_POST} postSe={MLG_SPEC_AP_POST_SE}
        preLine={AP_PRE_LINE} preBand={AP_PRE_BAND} postLine={AP_POST_LINE} postBand={AP_POST_BAND} />
      <SpecPanel area={{ left: 1007.3, right: 1231, top: 695.7, bottom: 924.5 }} yTitleX={946.8} xTitleY={971}
        yTitle={['ML ankle torque', 'autosepectra (Nm)²']}
        pre={MLG_SPEC_ML_PRE} preSe={MLG_SPEC_ML_PRE_SE} post={MLG_SPEC_ML_POST} postSe={MLG_SPEC_ML_POST_SE}
        preLine={ML_PRE_LINE} preBand={ML_PRE_BAND} postLine={ML_POST_LINE} postBand={ML_POST_BAND} />

      {/* legends */}
      <Swatch x={175} y={722} w={66} color={AP_PRE_LINE} />
      <Txt x={248} y={722} size={18} align="left">APpre</Txt>
      <Swatch x={175} y={745.5} w={66} color={AP_POST_LINE} />
      <Txt x={248} y={745.5} size={18} align="left">APpost</Txt>
      <Swatch x={467} y={722.5} w={66} color={ML_PRE_LINE} />
      <Txt x={540} y={722.5} size={18} align="left">MLpre</Txt>
      <Swatch x={467} y={746} w={66} color={ML_POST_LINE} />
      <Txt x={540} y={746} size={18} align="left">MLpost</Txt>
    </div>
  );
}
